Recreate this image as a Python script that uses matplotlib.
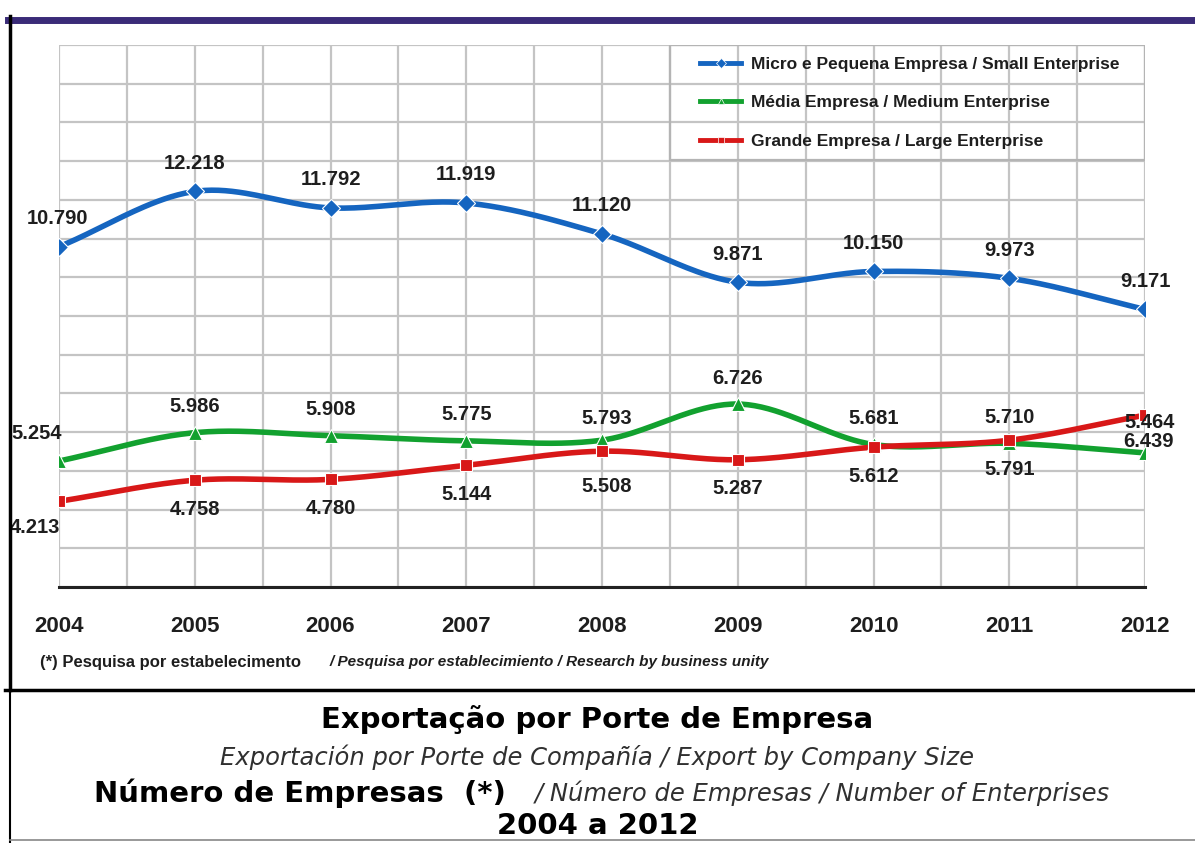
import numpy as np
import matplotlib
matplotlib.use('Agg')
import matplotlib.pyplot as plt
from matplotlib.lines import Line2D
from matplotlib.patches import Rectangle

# dados (número de empresas exportadoras)
years = [2004, 2005, 2006, 2007, 2008, 2009, 2010, 2011, 2012]
small = [10790, 12218, 11792, 11919, 11120, 9871, 10150, 9973, 9171]
medium = [5254, 5986, 5908, 5775, 5793, 6726, 5681, 5710, 5464]
large = [4213, 4758, 4780, 5144, 5508, 5287, 5612, 5791, 6439]

# rótulos como aparecem no gráfico original
small_labels = ['10.790', '12.218', '11.792', '11.919', '11.120', '9.871', '10.150', '9.973', '9.171']
medium_labels = ['5.254', '5.986', '5.908', '5.775', '5.793', '6.726', '5.681', '5.710', '6.439']
large_labels = ['4.213', '4.758', '4.780', '5.144', '5.508', '5.287', '5.612', '5.791', '5.464']

series_names = ['Micro e Pequena Empresa / Small Enterprise',
                'Média Empresa / Medium Enterprise',
                'Grande Empresa / Large Enterprise']

BLUE = '#1565c0'
GREEN = '#12a12f'
RED = '#d81818'
TXT = '#1e1e1e'
LBL_FONT = 'Liberation Sans'


def smooth(x, y, n=40):
    # curva suave tipo Catmull-Rom (como a linha suavizada do Excel)
    x = np.asarray(x, float)
    y = np.asarray(y, float)
    m = np.gradient(y, x)
    xs, ys = [], []
    t = np.linspace(0, 1, n, endpoint=False)
    h00 = 2 * t**3 - 3 * t**2 + 1
    h10 = t**3 - 2 * t**2 + t
    h01 = -2 * t**3 + 3 * t**2
    h11 = t**3 - t**2
    for i in range(len(x) - 1):
        h = x[i + 1] - x[i]
        xs.append(x[i] + t * h)
        ys.append(h00 * y[i] + h10 * h * m[i] + h01 * y[i + 1] + h11 * h * m[i + 1])
    xs.append([x[-1]])
    ys.append([y[-1]])
    return np.concatenate(xs), np.concatenate(ys)


fig = plt.figure(figsize=(11.95, 8.43), dpi=100)
W, H = 1195, 843
x0, x1, y0, y1 = 59, 1145, 45, 587  # área do gráfico em pixels
ax = fig.add_axes([x0 / W, 1 - y1 / H, (x1 - x0) / W, (y1 - y0) / H])
ax.set_facecolor('none')

ax.set_xlim(2004, 2012)
ax.set_ylim(2000, 16000)
ax.set_xticks(np.arange(2004, 2012.01, 0.5), minor=True)
ax.set_xticks(years)
ax.set_xticklabels([str(y) for y in years], fontsize=16, fontweight='bold',
                   family=LBL_FONT, color=TXT)
ax.set_yticks(np.arange(2000, 16001, 1000))
ax.set_yticklabels([])
ax.tick_params(axis='both', which='both', length=0)
ax.tick_params(axis='x', pad=21)
ax.grid(True, which='both', color='#c4c4c4', linewidth=1.6)
ax.set_axisbelow(True)
for s in ['top', 'left', 'right']:
    ax.spines[s].set_visible(False)
ax.spines['bottom'].set_color('#222222')
ax.spines['bottom'].set_linewidth(2.2)

styles = [(small, BLUE, 'D', 9), (medium, GREEN, '^', 10), (large, RED, 's', 9)]
for vals, col, mk, ms in styles:
    sx, sy = smooth(years, vals)
    ax.plot(sx, sy, color=col, linewidth=4, solid_capstyle='round', zorder=3)
    ax.plot(years, vals, linestyle='none', marker=mk, markersize=ms, color=col,
            markeredgecolor='white', markeredgewidth=0.8, zorder=4)


# rótulos de dados
def put_labels(vals, labels, dy, special):
    for i, (x, v, lab) in enumerate(zip(years, vals, labels)):
        dx, ddy = special.get(i, (0, dy))
        ax.annotate(lab, (x, v), xytext=(dx, ddy), textcoords='offset pixels',
                    ha='center', va='center', fontsize=14.5, fontweight='bold',
                    family=LBL_FONT, color=TXT, zorder=5, annotation_clip=False)


put_labels(small, small_labels, 28, {0: (-1, 28)})
put_labels(medium, medium_labels, 26, {0: (-22, 28), 4: (5, 22), 8: (4, 11)})
put_labels(large, large_labels, -29, {0: (-24, -26), 4: (5, -35), 8: (5, -7)})

# legenda (moldura desenhada à parte)
lx0, lx1, ly1 = 670, 1145, 160
ax.add_patch(Rectangle(((lx0 - x0) / (x1 - x0), (y1 - ly1) / (y1 - y0)),
                       (lx1 - lx0) / (x1 - x0), (ly1 - y0) / (y1 - y0),
                       transform=ax.transAxes, fill=False, edgecolor='#b4b4b4',
                       linewidth=1.6, zorder=2))
handles = [Line2D([], [], color=c, linewidth=3.5, marker=m, markersize=5,
                  markeredgecolor='white', markeredgewidth=0.5)
           for _, c, m, _ in styles]
leg = ax.legend(handles, series_names, loc='upper left',
                bbox_to_anchor=((688 - x0) / (x1 - x0), 1.0),
                borderaxespad=0, frameon=False, handlelength=2.4,
                labelspacing=1.34, borderpad=0.68, handletextpad=0.55,
                prop={'family': LBL_FONT, 'weight': 'bold', 'size': 12.5})
for t in leg.get_texts():
    t.set_color(TXT)

# nota
fig.text(40 / W, 1 - 662 / H, '(*) Pesquisa por estabelecimento', fontsize=12,
         fontweight='bold', family=LBL_FONT, color=TXT, va='center')
fig.text(330 / W, 1 - 662 / H, '/ Pesquisa por establecimiento / Research by business unity',
         fontsize=11, fontweight='bold', style='italic', family=LBL_FONT, color=TXT, va='center')

# moldura
fig.add_artist(Line2D([8 / W, 1], [1 - 20 / H, 1 - 20 / H], color='#3a2b78', linewidth=5))
fig.add_artist(Line2D([10 / W, 10 / W], [1 - 16 / H, 1 - 690 / H], color='black', linewidth=2.5))
fig.add_artist(Line2D([5 / W, 1], [1 - 690 / H, 1 - 690 / H], color='black', linewidth=2.5))
fig.add_artist(Line2D([10 / W, 10 / W], [1 - 690 / H, 0], color='black', linewidth=1.5))
fig.add_artist(Line2D([10 / W, 1], [1 - 840 / H, 1 - 840 / H], color='#888888', linewidth=1.2))

# títulos
fig.text(0.5, 1 - 720 / H, 'Exportação por Porte de Empresa', ha='center', va='center',
         fontsize=21, fontweight='bold', family='DejaVu Sans', color='black')
fig.text(0.5, 1 - 757 / H, 'Exportación por Porte de Compañía / Export by Company Size',
         ha='center', va='center', fontsize=17.5, style='italic', family='DejaVu Sans',
         color='#303030')
fig.text(506 / W, 1 - 793 / H, 'Número de Empresas  (*)', ha='right', va='center',
         fontsize=21, fontweight='bold', family='DejaVu Sans', color='black')
fig.text(535 / W, 1 - 793 / H, '/ Número de Empresas / Number of Enterprises', ha='left',
         va='center', fontsize=17.5, style='italic', family='DejaVu Sans', color='#303030')
fig.text(0.5, 1 - 826 / H, '2004 a 2012', ha='center', va='center',
         fontsize=21, fontweight='bold', family='DejaVu Sans', color='black')

fig.savefig('out.png', dpi=100)
